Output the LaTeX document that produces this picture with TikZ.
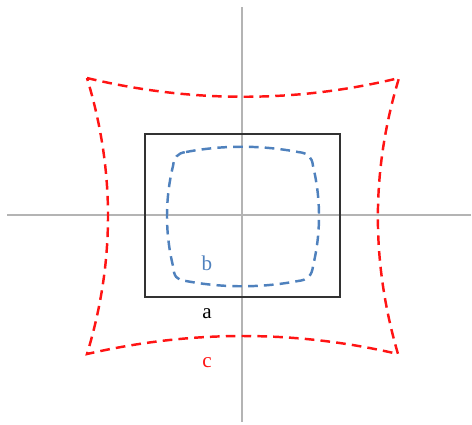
\documentclass[tikz,border=0pt]{standalone}
\usepackage{fontspec}
\setmainfont{Liberation Serif}
\definecolor{axe}{RGB}{180,180,180}
\definecolor{bleu}{RGB}{79,129,189}
\definecolor{rouge}{RGB}{255,20,20}
\definecolor{cadre}{RGB}{50,50,50}
\begin{document}
\begin{tikzpicture}[x=0.02cm,y=-0.02cm,
  axe/.style={draw=axe,line width=0.6pt},
  pointille/.style={dash pattern=on 5.5pt off 3.5pt,line width=1.4pt},
  lettre/.style={font=\fontsize{12}{14}\selectfont}]

\useasboundingbox (0,0) rectangle (472,424);

\draw[axe] (242,7) -- (242,422);
\draw[axe] (7,215) -- (471,215);

\draw[cadre,line width=1.1pt] (145,134) rectangle (340,297);

\draw[bleu,pointille] (186,152) .. controls (223,145) and (261,145) .. (298,152)
  .. controls (308,153) and (312,157) .. (313,166)
  .. controls (321,199) and (321,233) .. (313,266)
  .. controls (312,275) and (308,280) .. (298,281)
  .. controls (261,288) and (223,288) .. (186,281)
  .. controls (176,280) and (174,276) .. (173,266)
  .. controls (165,233) and (165,199) .. (173,166)
  .. controls (174,158) and (177,153) .. (186,152) -- cycle;

\draw[rouge,pointille,miter limit=20] (87,78) .. controls (191,103) and (296,103) .. (399,78)
  .. controls (371,170) and (371,262) .. (398,354)
  .. controls (295,330) and (191,330) .. (87,354)
  .. controls (115,262) and (115,170) .. (87,78) -- cycle;

\node[lettre,text=bleu] (b) at (207,263) {b};
\node[lettre] (a) at (207,314) {a};
\node[lettre,text=rouge] (c) at (207,363) {c};

\end{tikzpicture}
\end{document}
